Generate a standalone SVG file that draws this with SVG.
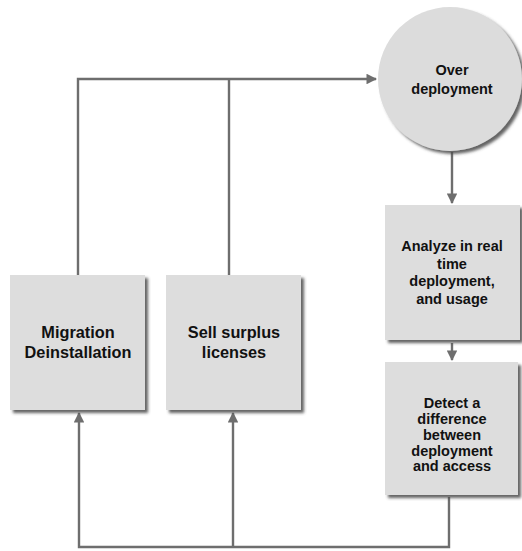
<svg xmlns="http://www.w3.org/2000/svg" width="522" height="551" viewBox="0 0 522 551">
  <defs>
    <filter id="sh" x="-10%" y="-10%" width="125%" height="125%">
      <feDropShadow dx="3" dy="3" stdDeviation="1.6" flood-color="#4a4a4a" flood-opacity="0.85"/>
    </filter>
    <marker id="ah" viewBox="0 0 10 10" refX="9" refY="5" markerWidth="4.4" markerHeight="4.4" orient="auto" markerUnits="strokeWidth">
      <path d="M0,0 L10,5 L0,10 Z" fill="#6e6e6e"/>
    </marker>
    <style>
      .box { fill: #dddddd; filter: url(#sh); }
      .t { font-family: "Liberation Sans", Arial, sans-serif; font-weight: bold; fill: #111; text-anchor: middle; }
      .big { font-size: 16.3px; }
      .sm { font-size: 14.5px; }
      .c { fill: none; stroke: #6e6e6e; stroke-width: 2.4; }
    </style>
  </defs>
  <rect width="522" height="551" fill="#ffffff"/>

  <g id="connectors">
    <polyline class="c" points="78,275 78,79 376,79" marker-end="url(#ah)"/>
    <line class="c" x1="229" y1="275" x2="229" y2="79"/>
    <line class="c" x1="452" y1="152" x2="452" y2="203" marker-end="url(#ah)"/>
    <line class="c" x1="452" y1="343" x2="452" y2="360" marker-end="url(#ah)"/>
    <polyline class="c" points="449,497 449,547 79,547 79,413" marker-end="url(#ah)"/>
    <line class="c" x1="233" y1="547" x2="233" y2="413" marker-end="url(#ah)"/>
  </g>

  <g id="over-deployment">
    <circle cx="450" cy="79" r="72" fill="#dcdcdc" filter="url(#sh)"/>
    <text class="t sm" x="452" y="75">Over</text>
    <text class="t sm" x="452" y="94">deployment</text>
  </g>

  <g id="analyze">
    <rect class="box" x="385" y="205" width="135" height="135"/>
    <text class="t sm" x="452" y="251">Analyze in real</text>
    <text class="t sm" x="452" y="269">time</text>
    <text class="t sm" x="452" y="286">deployment,</text>
    <text class="t sm" x="452" y="304">and usage</text>
  </g>

  <g id="detect">
    <rect class="box" x="385" y="362" width="133" height="133"/>
    <text class="t sm" x="452" y="408">Detect a</text>
    <text class="t sm" x="452" y="424">difference</text>
    <text class="t sm" x="452" y="440">between</text>
    <text class="t sm" x="452" y="456">deployment</text>
    <text class="t sm" x="452" y="471">and access</text>
  </g>

  <g id="migration">
    <rect class="box" x="10" y="275" width="135" height="135"/>
    <text class="t big" x="78" y="338">Migration</text>
    <text class="t big" x="78" y="358">Deinstallation</text>
  </g>

  <g id="sell">
    <rect class="box" x="166" y="275" width="135" height="135"/>
    <text class="t big" x="234" y="338">Sell surplus</text>
    <text class="t big" x="234" y="358">licenses</text>
  </g>
</svg>
